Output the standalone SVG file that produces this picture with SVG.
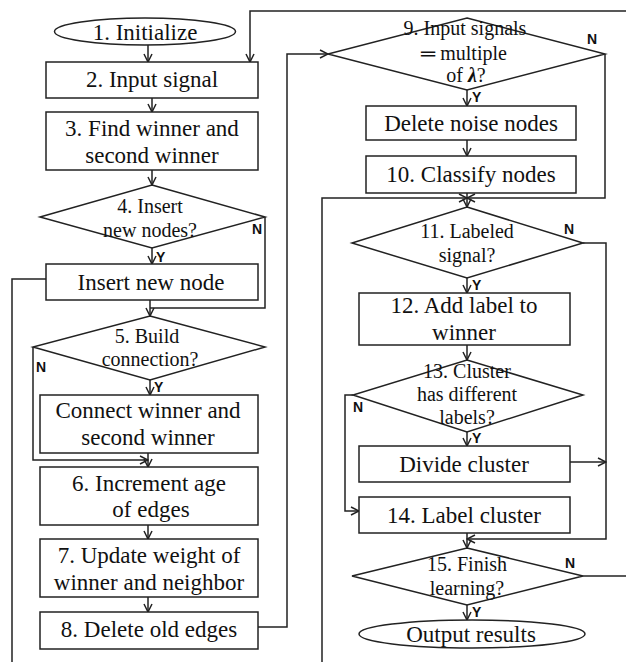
<svg xmlns="http://www.w3.org/2000/svg" width="626" height="662" viewBox="0 0 626 662">
<style>
.shape{fill:#fff;stroke:#222;stroke-width:1.5}
.ln{fill:none;stroke:#222;stroke-width:1.5}
.arr{marker-end:url(#ah)}
.t{font-family:'Liberation Serif',serif;font-size:23px;fill:#111;text-anchor:middle}
.d{font-family:'Liberation Serif',serif;font-size:20px;fill:#111;text-anchor:middle}
.yn{font-family:'Liberation Sans',sans-serif;font-size:14px;font-weight:bold;fill:#111}
</style>
<defs>
<marker id="ah" viewBox="0 0 10 10" refX="9" refY="5" markerWidth="10" markerHeight="10" markerUnits="userSpaceOnUse" orient="auto">
<path d="M1,1 L9,5 L1,9" fill="none" stroke="#222" stroke-width="1.5"/>
</marker>
</defs>
<rect width="626" height="662" fill="#fff"/>
<g id="connectors">
<path class="ln arr" d="M148,45 V62"/>
<path class="ln arr" d="M152,98 V112"/>
<path class="ln arr" d="M152,170 V185"/>
<path class="ln arr" d="M152,248 V264"/>
<path class="ln" d="M265,217 V308 H150"/>
<path class="ln arr" d="M150,300 V316"/>
<path class="ln" d="M46,279 H12 V662"/>
<path class="ln arr" d="M150,380 V395"/>
<path class="ln arr" d="M33,347 V460 H148"/>
<path class="ln arr" d="M148,453 V467"/>
<path class="ln arr" d="M148,525 V539"/>
<path class="ln arr" d="M148,597 V612"/>
<path class="ln arr" d="M258,627 H287 V54 H328"/>
<path class="ln arr" d="M626,11 H250 V62"/>
<path class="ln arr" d="M467,90 V106"/>
<path class="ln arr" d="M467,140 V156"/>
<path class="ln arr" d="M467,193 V207"/>
<path class="ln arr" d="M605,54 V198 H467"/>
<path class="ln arr" d="M322,662 V198 H467"/>
<path class="ln arr" d="M467,278 V293"/>
<path class="ln arr" d="M583,243 H606 V539 H467"/>
<path class="ln arr" d="M467,345 V360"/>
<path class="ln arr" d="M467,432 V446"/>
<path class="ln arr" d="M353,395 H345 V511 H359"/>
<path class="ln arr" d="M570,462 H606"/>
<path class="ln arr" d="M467,533 V548"/>
<path class="ln" d="M583,576 H626"/>
<path class="ln arr" d="M467,605 V620"/>
<text class="yn" x="156" y="262">Y</text>
<text class="yn" x="252" y="234">N</text>
<text class="yn" x="154" y="392">Y</text>
<text class="yn" x="36" y="372">N</text>
<text class="yn" x="472" y="102">Y</text>
<text class="yn" x="587" y="44">N</text>
<text class="yn" x="472" y="290">Y</text>
<text class="yn" x="564" y="234">N</text>
<text class="yn" x="472" y="443">Y</text>
<text class="yn" x="353" y="412">N</text>
<text class="yn" x="472" y="617">Y</text>
<text class="yn" x="565" y="568">N</text>
</g>
<g id="n1"><ellipse class="shape" cx="145" cy="31.5" rx="90.5" ry="13.5"/><text class="t" x="145" y="40">1. Initialize</text></g>
<g id="n2"><rect class="shape" x="46" y="62" width="212" height="36"/><text class="t" x="152" y="87">2. Input signal</text></g>
<g id="n3"><rect class="shape" x="46" y="112" width="212" height="58"/><text class="t" x="152" y="136">3. Find winner and</text><text class="t" x="152" y="163">second winner</text></g>
<g id="n4"><polygon class="shape" points="152,185 265,217 152,248 40,217"/><text class="d" x="150" y="213">4. Insert</text><text class="d" x="150" y="237">new nodes?</text></g>
<g id="n4y"><rect class="shape" x="46" y="264" width="212" height="36"/><text class="t" x="151" y="290">Insert new node</text></g>
<g id="n5"><polygon class="shape" points="150,316 265,347 150,380 33,347"/><text class="d" x="147" y="343">5. Build</text><text class="d" x="150" y="366">connection?</text></g>
<g id="n5y"><rect class="shape" x="40" y="395" width="218" height="58"/><text class="t" x="148" y="418">Connect winner and</text><text class="t" x="148" y="445">second winner</text></g>
<g id="n6"><rect class="shape" x="40" y="467" width="218" height="58"/><text class="t" x="149" y="491">6. Increment age</text><text class="t" x="151" y="517">of edges</text></g>
<g id="n7"><rect class="shape" x="40" y="539" width="218" height="58"/><text class="t" x="149" y="563">7. Update weight of</text><text class="t" x="149" y="590">winner and neighbor</text></g>
<g id="n8"><rect class="shape" x="40" y="612" width="218" height="37"/><text class="t" x="149" y="637">8. Delete old edges</text></g>
<g id="n9"><polygon class="shape" points="467,18 605,54 467,90 328,54"/><text class="d" x="465" y="35" font-size="19">9. Input signals</text><text class="d" x="464" y="60" font-size="19"><tspan font-weight="bold">═</tspan> multiple</text><text class="d" x="466" y="82" font-size="19">of <tspan font-weight="bold" font-style="italic">λ</tspan>?</text></g>
<g id="n9y"><rect class="shape" x="366" y="106" width="210" height="34"/><text class="t" x="471" y="131">Delete noise nodes</text></g>
<g id="n10"><rect class="shape" x="366" y="156" width="210" height="37"/><text class="t" x="471" y="182">10. Classify nodes</text></g>
<g id="n11"><polygon class="shape" points="467,207 583,243 467,278 352,243"/><text class="d" x="467" y="238">11. Labeled</text><text class="d" x="467" y="262">signal?</text></g>
<g id="n12"><rect class="shape" x="359" y="293" width="211" height="52"/><text class="t" x="464" y="313">12. Add label to</text><text class="t" x="464" y="340">winner</text></g>
<g id="n13"><polygon class="shape" points="467,360 583,395 467,432 353,395"/><text class="d" x="467" y="378">13. Cluster</text><text class="d" x="467" y="401">has different</text><text class="d" x="467" y="424">labels?</text></g>
<g id="n13y"><rect class="shape" x="359" y="446" width="211" height="36"/><text class="t" x="464" y="472">Divide cluster</text></g>
<g id="n14"><rect class="shape" x="359" y="497" width="211" height="36"/><text class="t" x="464" y="523">14. Label cluster</text></g>
<g id="n15"><polygon class="shape" points="467,548 583,576 467,605 352,576"/><text class="d" x="467" y="571">15. Finish</text><text class="d" x="467" y="595">learning?</text></g>
<g id="n16"><ellipse class="shape" cx="472" cy="634" rx="113" ry="14"/><text class="t" x="471" y="642">Output results</text></g>
</svg>
